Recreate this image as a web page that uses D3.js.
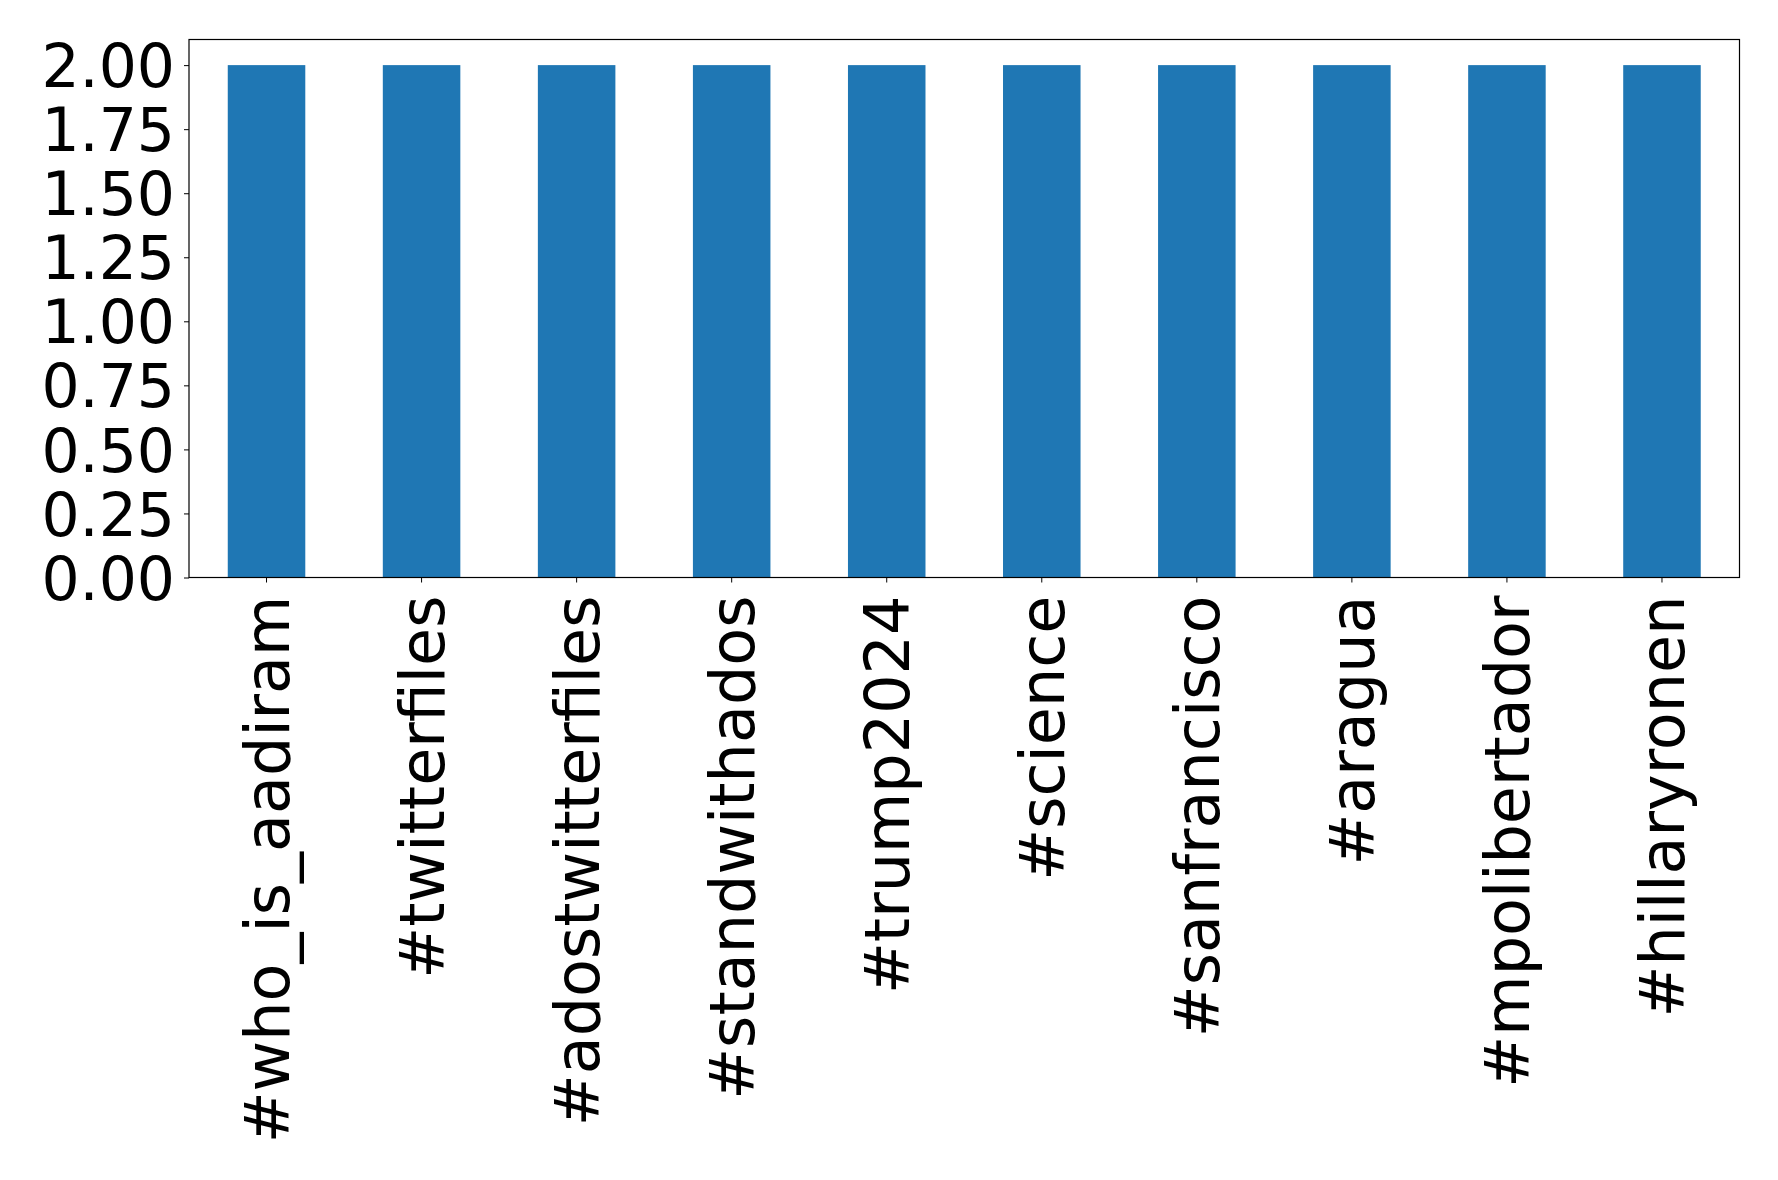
<!DOCTYPE html>
<html>
<head>
<meta charset="utf-8">
<script src="https://cdn.jsdelivr.net/npm/d3@7"></script>
<style>
html,body{margin:0;padding:0;background:#fff;}
svg{display:block;}
</style>
</head>
<body>
<svg id="chart" width="1778" height="1180"></svg>
<script>
const categories = ["#who_is_aadiram","#twitterfiles","#adostwitterfiles","#standwithados","#trump2024","#science","#sanfrancisco","#aragua","#mpolibertador","#hillaryronen"];
const values = [2,2,2,2,2,2,2,2,2,2];
const yTicks = [0,0.25,0.5,0.75,1.0,1.25,1.5,1.75,2.0];

const svg = d3.select("#chart");
const margin = {left:189, top:39.5, right:1778-1739.5, bottom:1180-577.5};
const W = 1778 - margin.left - margin.right;
const H = 1180 - margin.top - margin.bottom;
const g = svg.append("g").attr("transform", `translate(${margin.left},${margin.top})`);

const x = d3.scaleBand().domain(categories).range([0, W]).paddingInner(0.5).paddingOuter(0.25);
const y = d3.scaleLinear().domain([0, 2.1]).range([H, 0]);

g.selectAll("rect.bar").data(categories).enter().append("rect")
  .attr("class","bar")
  .attr("x", d => x(d))
  .attr("width", x.bandwidth())
  .attr("y", (d,i) => y(values[i]))
  .attr("height", (d,i) => y(0) - y(values[i]))
  .attr("fill", "#1f77b4");

const font = "'DejaVu Sans', sans-serif";
const yAxis = g.append("g").call(d3.axisLeft(y).tickValues(yTicks).tickFormat(d3.format(".2f")).tickSize(5).tickPadding(9));
yAxis.select(".domain").remove();
yAxis.selectAll("line").attr("stroke","#000").attr("stroke-width",1);
yAxis.selectAll("text").attr("font-family", font).attr("font-size", 60).attr("fill","#000").attr("dy","0.36em");

const xAxis = g.append("g").attr("transform", `translate(0,${H})`)
  .call(d3.axisBottom(x).tickSize(5).tickPadding(8));
xAxis.select(".domain").remove();
xAxis.selectAll("line").attr("stroke","#000").attr("stroke-width",1);
xAxis.selectAll("text")
  .attr("font-family", font).attr("font-size", 62).attr("fill","#000")
  .attr("text-anchor","end")
  .attr("transform","rotate(-90)")
  .attr("x", -18).attr("y", 0).attr("dy","0.36em");

g.append("rect").attr("x",0).attr("y",0).attr("width",W).attr("height",H)
  .attr("fill","none").attr("stroke","#000").attr("stroke-width",1.2);
</script>
</body>
</html>
